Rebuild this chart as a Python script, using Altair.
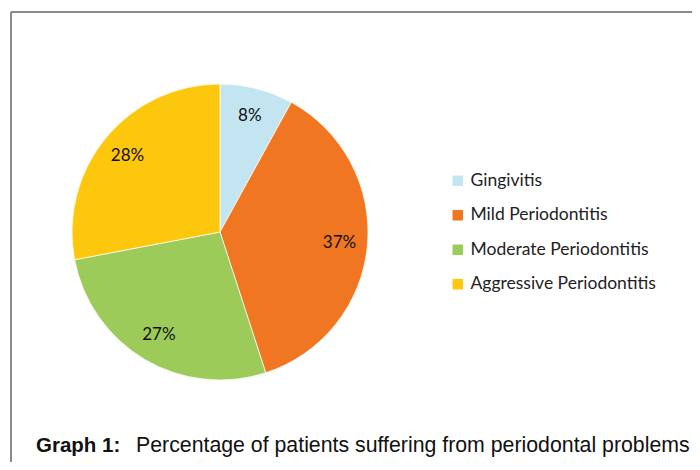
import altair as alt
import pandas as pd

categories = ["Gingivitis", "Mild Periodontitis", "Moderate Periodontitis", "Aggressive Periodontitis"]
values = [8, 37, 27, 28]
labels = ["8%", "37%", "27%", "28%"]
colors = ["#C3E5F2", "#F07622", "#9DCB5A", "#FCC70C"]

df = pd.DataFrame({"category": categories, "value": values, "label": labels, "idx": list(range(len(categories)))})
one = pd.DataFrame({"a": [0]})

CX, CY, R = 212, 224, 148

frame_top = alt.Chart(one).mark_rule(color="#8a8a8a", strokeWidth=2).encode(
    x=alt.value(3), x2=alt.value(700), y=alt.value(4))
frame_left = alt.Chart(one).mark_rule(color="#8a8a8a", strokeWidth=2).encode(
    x=alt.value(3), y=alt.value(4), y2=alt.value(470))

base = alt.Chart(df)
arcs = base.mark_arc(radius=R, stroke="#ffffff", strokeWidth=1, strokeOpacity=0.7).encode(
    theta=alt.Theta("value:Q", stack=True),
    color=alt.Color("category:N", scale=alt.Scale(domain=categories, range=colors),
                    legend=alt.Legend(title=None, orient="none", legendX=441, legendY=164,
                                      symbolType="square", symbolSize=110, symbolStrokeWidth=0,
                                      labelFont="Lato", labelFontSize=17.5, labelColor="#222222",
                                      rowPadding=15.5, labelOffset=4, labelLimit=300)),
    order=alt.Order("idx:Q"),
    x=alt.value(CX), y=alt.value(CY),
)
texts = base.mark_text(radius=120, font="Lato", fontSize=17, color="#111111").encode(
    theta=alt.Theta("value:Q", stack=True),
    text="label:N",
    order=alt.Order("idx:Q"),
    x=alt.value(CX), y=alt.value(CY),
)

cap_bold = alt.Chart(one).mark_text(text="Graph 1:", font="Liberation Sans", fontSize=20.5, fontWeight="bold",
                                    align="left", baseline="middle", color="#111111").encode(
    x=alt.value(28), y=alt.value(438))
cap_text = alt.Chart(one).mark_text(text="Percentage of patients suffering from periodontal problems",
                                    font="Liberation Sans", fontSize=21.3, align="left", baseline="middle",
                                    color="#111111").encode(
    x=alt.value(128), y=alt.value(438))

chart = alt.layer(frame_top, frame_left, arcs, texts, cap_bold, cap_text).properties(
    width=684, height=454, autosize=alt.AutoSizeParams(type="none"), padding=0
).configure_view(stroke=None)

chart.save("out.html", embed_options={"renderer": "svg", "actions": False})
